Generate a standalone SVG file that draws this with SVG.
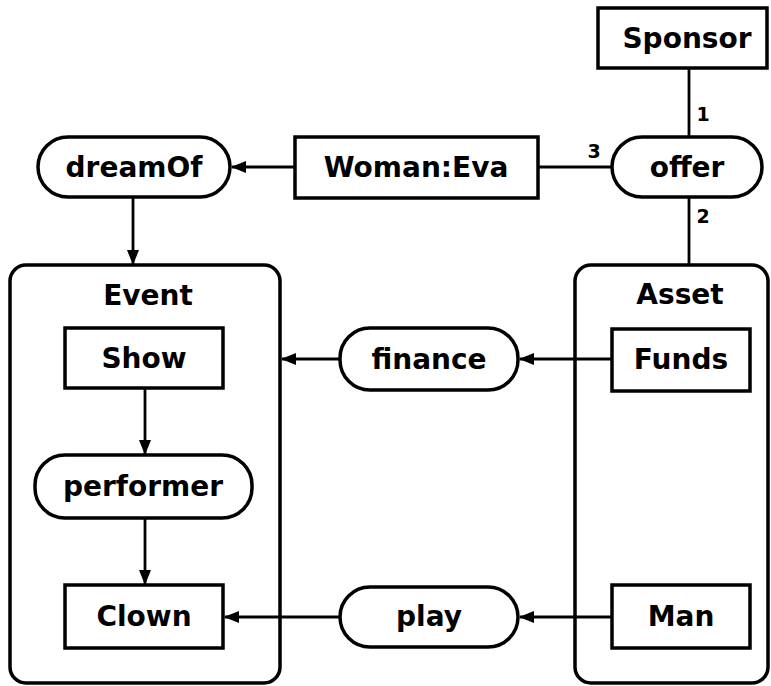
<svg xmlns="http://www.w3.org/2000/svg" width="771" height="686" viewBox="0 0 771 686">
<style>
.box{fill:#fff;stroke:#000;stroke-width:3.5}
.cont{fill:#fff;stroke:#000;stroke-width:3.5}
.lbl{font-family:"Comic Sans MS","DejaVu Sans",sans-serif;font-weight:bold;font-size:28px;fill:#000;text-anchor:middle;dominant-baseline:central}
.num{font-family:"DejaVu Sans",sans-serif;font-weight:bold;font-size:19px;fill:#000;text-anchor:middle;dominant-baseline:central}
.ln{stroke:#000;stroke-width:2.8;fill:none}
.arr{stroke:#000;stroke-width:2.8;fill:none;marker-end:url(#ah)}
</style>
<defs>
<marker id="ah" markerWidth="15" markerHeight="12" refX="14" refY="6" orient="auto" markerUnits="userSpaceOnUse">
<path d="M0,0 L15,6 L0,12 Z" fill="#000"/>
</marker>
</defs>
<rect width="771" height="686" fill="#fff"/>
<g id="event">
<rect class="cont" x="10" y="265" width="270" height="418" rx="16"/>
<text class="lbl" x="148" y="295">Event</text>
</g>
<g id="asset">
<rect class="cont" x="575" y="265" width="193" height="418" rx="16"/>
<text class="lbl" x="680" y="294">Asset</text>
</g>
<g id="connectors">
<line class="ln" x1="689" y1="68" x2="689" y2="137"/>
<line class="ln" x1="689" y1="197" x2="689" y2="265"/>
<line class="ln" x1="612" y1="167" x2="538" y2="167"/>
<line class="arr" x1="295" y1="167" x2="232" y2="167"/>
<line class="arr" x1="133" y1="197" x2="133" y2="264"/>
<line class="arr" x1="612" y1="359" x2="520" y2="359"/>
<line class="arr" x1="340" y1="359" x2="282" y2="359"/>
<line class="arr" x1="145" y1="388" x2="145" y2="454"/>
<line class="arr" x1="145" y1="518" x2="145" y2="584"/>
<line class="arr" x1="612" y1="617" x2="520" y2="617"/>
<line class="arr" x1="340" y1="617" x2="225" y2="617"/>
<text class="num" x="703" y="114">1</text>
<text class="num" x="703" y="216">2</text>
<text class="num" x="594" y="151">3</text>
</g>
<g id="sponsor">
<rect class="box" x="598" y="8" width="169" height="60"/>
<text class="lbl" x="687" y="38">Sponsor</text>
</g>
<g id="offer">
<rect class="box" x="612" y="137" width="150" height="60" rx="30"/>
<text class="lbl" x="687" y="167">offer</text>
</g>
<g id="woman">
<rect class="box" x="295" y="137" width="243" height="61"/>
<text class="lbl" x="416" y="167">Woman:Eva</text>
</g>
<g id="dreamOf">
<rect class="box" x="38" y="137" width="192" height="60" rx="30"/>
<text class="lbl" x="134" y="167">dreamOf</text>
</g>
<g id="show">
<rect class="box" x="65" y="328" width="158" height="60"/>
<text class="lbl" x="144" y="358">Show</text>
</g>
<g id="performer">
<rect class="box" x="35" y="455" width="217" height="63" rx="30"/>
<text class="lbl" x="143" y="486">performer</text>
</g>
<g id="clown">
<rect class="box" x="65" y="585" width="158" height="63"/>
<text class="lbl" x="144" y="616">Clown</text>
</g>
<g id="finance">
<rect class="box" x="340" y="328" width="178" height="62" rx="30"/>
<text class="lbl" x="429" y="359">finance</text>
</g>
<g id="funds">
<rect class="box" x="612" y="329" width="138" height="62"/>
<text class="lbl" x="681" y="359">Funds</text>
</g>
<g id="play">
<rect class="box" x="340" y="587" width="178" height="60" rx="30"/>
<text class="lbl" x="429" y="616">play</text>
</g>
<g id="man">
<rect class="box" x="612" y="585" width="138" height="63"/>
<text class="lbl" x="681" y="616">Man</text>
</g>
</svg>
